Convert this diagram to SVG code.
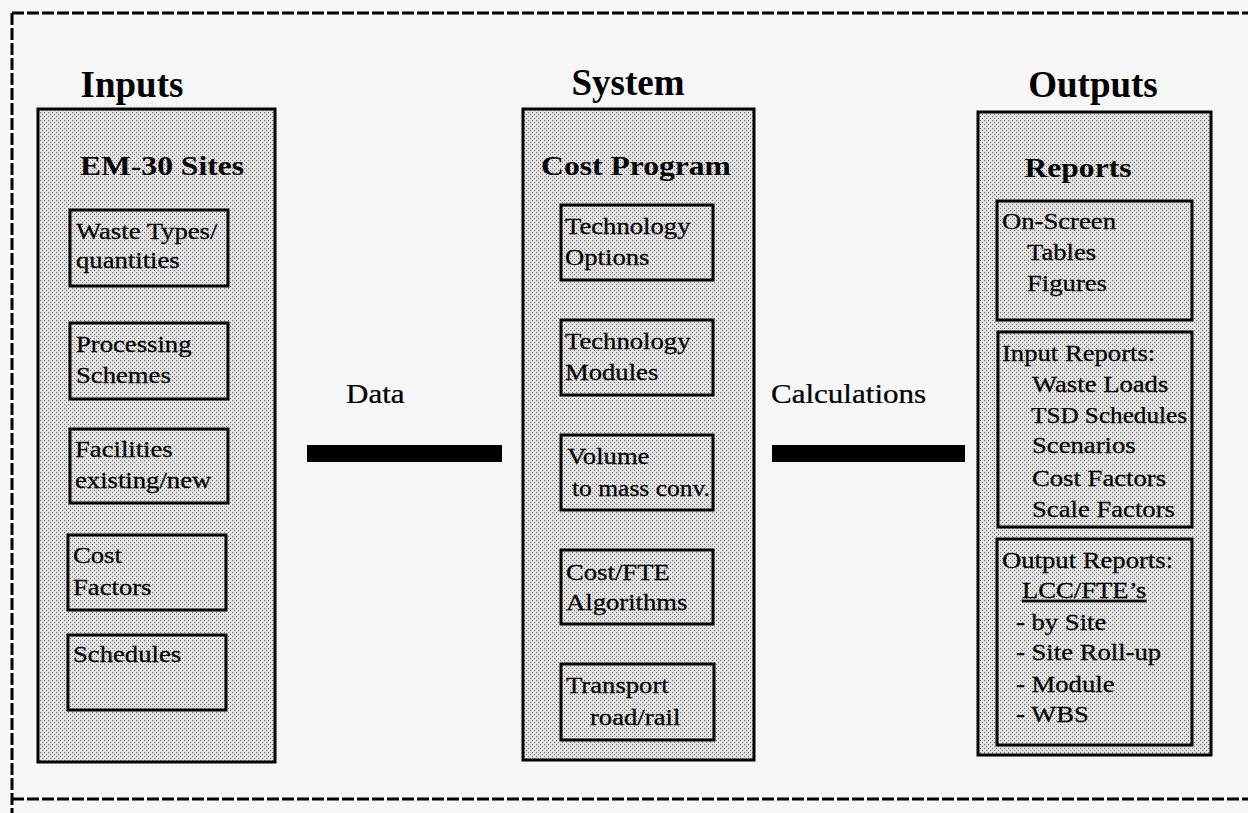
<svg xmlns="http://www.w3.org/2000/svg" width="1248" height="813" viewBox="0 0 1248 813">
  <defs>
    <!-- halftone stipple used for the panels and their boxes -->
    <pattern id="stipple" width="4" height="4" patternUnits="userSpaceOnUse">
      <rect width="4" height="4" fill="#e2e2e2"/>
      <rect x="0" y="0" width="1" height="1" fill="#666"/>
      <rect x="2" y="2" width="1" height="1" fill="#666"/>
    </pattern>
  </defs>
  <style>
    .panel { fill: url(#stipple); stroke: #000; stroke-width: 3; }
    .box { fill: none; stroke: #000; stroke-width: 3; }
    .frame { stroke: #000; stroke-width: 3; stroke-dasharray: 12 3; fill: none; }
    .title { font-family: "Liberation Serif", "Times New Roman", serif; font-weight: bold; font-size: 37px; fill: #000; text-anchor: middle; }
    .sub { font-family: "Liberation Serif", "Times New Roman", serif; font-weight: bold; font-size: 27px; fill: #000; text-anchor: middle;
           transform-box: fill-box; transform-origin: 50% 50%; transform: scaleX(1.17); }
    .t, .tn { font-family: "Liberation Serif", "Times New Roman", serif; font-size: 23px; fill: #000; stroke: #000; stroke-width: 0.25; white-space: pre; }
    .t { transform-box: fill-box; transform-origin: 0 50%; transform: scaleX(1.16); }
    .lbl { font-family: "Liberation Serif", "Times New Roman", serif; font-size: 27px; fill: #000; stroke: #000; stroke-width: 0.25;
           transform-box: fill-box; transform-origin: 0 50%; transform: scaleX(1.15); }
    .bar { fill: #000; }
  </style>

  <rect width="1248" height="813" fill="#f6f7f6"/>

  <!-- dashed page frame -->
  <g id="frame">
    <line class="frame" x1="12" y1="13" x2="1248" y2="13"/>
    <line class="frame" x1="12" y1="13" x2="12" y2="813"/>
    <line class="frame" x1="12" y1="799" x2="1248" y2="799"/>
  </g>

  <!-- Inputs column -->
  <g id="inputs">
    <text class="title" x="132" y="97">Inputs</text>
    <rect class="panel" x="38" y="109" width="237" height="653"/>
    <text class="sub" x="162" y="175">EM-30 Sites</text>
    <g id="waste-types">
      <rect class="box" x="70" y="210" width="158" height="76"/>
      <text class="t" x="76" y="239">Waste Types/</text>
      <text class="t" x="76" y="268">quantities</text>
    </g>
    <g id="processing">
      <rect class="box" x="70" y="323" width="158" height="76"/>
      <text class="t" x="76" y="352">Processing</text>
      <text class="t" x="76" y="383">Schemes</text>
    </g>
    <g id="facilities">
      <rect class="box" x="70" y="429" width="158" height="74"/>
      <text class="t" x="75" y="457">Facilities</text>
      <text class="t" x="75" y="488">existing/new</text>
    </g>
    <g id="cost-factors">
      <rect class="box" x="68" y="535" width="158" height="75"/>
      <text class="t" x="73" y="563">Cost</text>
      <text class="t" x="73" y="595">Factors</text>
    </g>
    <g id="schedules">
      <rect class="box" x="68" y="635" width="158" height="75"/>
      <text class="t" x="73" y="662">Schedules</text>
    </g>
  </g>

  <!-- System column -->
  <g id="system">
    <text class="title" x="628" y="95">System</text>
    <rect class="panel" x="523" y="109" width="231" height="651"/>
    <text class="sub" x="636" y="175">Cost Program</text>
    <g id="tech-options">
      <rect class="box" x="561" y="205" width="152" height="75"/>
      <text class="t" x="565" y="234">Technology</text>
      <text class="t" x="565" y="265">Options</text>
    </g>
    <g id="tech-modules">
      <rect class="box" x="561" y="320" width="152" height="75"/>
      <text class="t" x="565" y="349">Technology</text>
      <text class="t" x="565" y="380">Modules</text>
    </g>
    <g id="volume">
      <rect class="box" x="561" y="435" width="152" height="75"/>
      <text class="t" x="567" y="464">Volume</text>
      <text class="tn" x="572" y="496" textLength="138" lengthAdjust="spacingAndGlyphs">to mass conv.</text>
    </g>
    <g id="cost-fte">
      <rect class="box" x="561" y="550" width="152" height="74"/>
      <text class="t" x="566" y="580">Cost/FTE</text>
      <text class="t" x="566" y="610">Algorithms</text>
    </g>
    <g id="transport">
      <rect class="box" x="561" y="664" width="153" height="76"/>
      <text class="t" x="566" y="693">Transport</text>
      <text class="t" x="590" y="725">road/rail</text>
    </g>
  </g>

  <!-- Outputs column -->
  <g id="outputs">
    <text class="title" x="1093" y="97">Outputs</text>
    <rect class="panel" x="978" y="112" width="233" height="643"/>
    <text class="sub" x="1078" y="177">Reports</text>
    <g id="on-screen">
      <rect class="box" x="997" y="201" width="195" height="119"/>
      <text class="t" x="1002" y="229">On-Screen</text>
      <text class="t" x="1027" y="260">Tables</text>
      <text class="t" x="1027" y="291">Figures</text>
    </g>
    <g id="input-reports">
      <rect class="box" x="998" y="332" width="194" height="195"/>
      <text class="t" x="1002" y="361">Input Reports:</text>
      <text class="t" x="1032" y="392">Waste Loads</text>
      <text class="tn" x="1031" y="423" textLength="156" lengthAdjust="spacingAndGlyphs">TSD Schedules</text>
      <text class="t" x="1032" y="453">Scenarios</text>
      <text class="t" x="1032" y="486">Cost Factors</text>
      <text class="t" x="1032" y="517">Scale Factors</text>
    </g>
    <g id="output-reports">
      <rect class="box" x="997" y="539" width="195" height="206"/>
      <text class="t" x="1002" y="568">Output Reports:</text>
      <text class="t" x="1022" y="598" text-decoration="underline">LCC/FTE’s</text>
      <text class="t" x="1016" y="630">- by Site</text>
      <text class="t" x="1016" y="660">- Site Roll-up</text>
      <text class="t" x="1016" y="692">- Module</text>
      <text class="t" x="1016" y="722">- WBS</text>
    </g>
  </g>

  <!-- flows between the columns -->
  <g id="connectors">
    <text class="lbl" x="346" y="403">Data</text>
    <rect class="bar" x="307" y="445" width="195" height="17"/>
    <text class="lbl" x="771" y="403">Calculations</text>
    <rect class="bar" x="772" y="445" width="193" height="17"/>
  </g>
</svg>
